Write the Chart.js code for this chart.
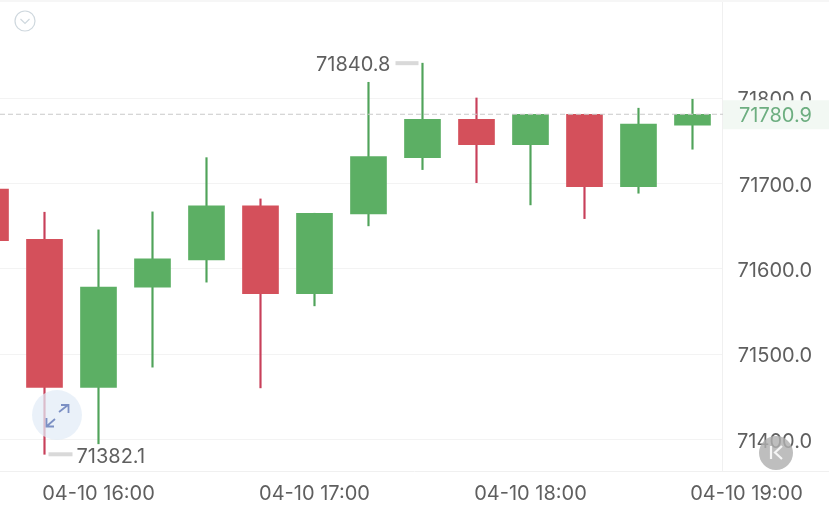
<!DOCTYPE html>
<html>
<head>
<meta charset="utf-8">
<style>
  html, body { margin: 0; padding: 0; background: #fff; overflow: hidden; }
  canvas { display: block; }
</style>
<script src="https://cdn.jsdelivr.net/npm/chart.js@4/dist/chart.umd.min.js"></script>
</head>
<body>
<canvas id="myChart" width="829" height="505"></canvas>
<script>
// candle data, one entry per 15 minutes
var times = ["15:30","15:45","16:00","16:15","16:30","16:45","17:00","17:15","17:30","17:45","18:00","18:15","18:30","18:45"];
var opens  = [71693.0,71634.1,71460.4,71578.1,71610.1,71673.4,71570.6,71664.0,71730.0,71775.0,71745.3,71780.9,71696.0,71768.0];
var closes = [71632.7,71460.4,71578.1,71611.3,71673.4,71570.6,71664.8,71731.2,71775.0,71745.3,71780.9,71696.0,71769.5,71780.9];
var highs  = [71712.0,71666.0,71645.3,71666.4,71730.0,71681.6,71664.8,71818.4,71840.8,71800.0,71780.9,71780.9,71788.0,71798.5];
var lows   = [71610.0,71382.1,71394.4,71484.3,71584.0,71460.0,71556.2,71650.0,71716.0,71700.7,71674.6,71658.5,71688.3,71739.9];

var tickLabels = { 960: "04-10 16:00", 1020: "04-10 17:00", 1080: "04-10 18:00", 1140: "04-10 19:00" };
var priceTicks = [71400, 71500, 71600, 71700, 71800];
var lastPrice = 71780.9;
var highPrice = 71840.8;
var lowPrice = 71382.1;

var FONT = "Inter, 'Liberation Sans', sans-serif";
var TEXT = "#5f5f5f";
var GREEN = "#5caf64", RED = "#d4505b";
var GREEN_WICK = "#50a35a", RED_WICK = "#c8405a";
var DIVIDER_X = 722;

function toMinutes(t) {
  var p = t.split(":");
  return parseInt(p[0]) * 60 + parseInt(p[1]);
}

var bodyData = [], wickData = [], bodyColors = [], wickColors = [];
for (var i = 0; i < times.length; i++) {
  var m = toMinutes(times[i]);
  var up = closes[i] >= opens[i];
  bodyData.push({ x: m, y: [opens[i], closes[i]] });
  wickData.push({ x: m, y: [lows[i], highs[i]] });
  bodyColors.push(up ? GREEN : RED);
  wickColors.push(up ? GREEN_WICK : RED_WICK);
}

// grid lines only reach the divider, the right side belongs to the price labels
var gridPlugin = {
  id: "grid",
  beforeDatasetsDraw: function(chart) {
    var ctx = chart.ctx, y = chart.scales.y, a = chart.chartArea;
    ctx.save();
    ctx.strokeStyle = "#f3f3f3";
    ctx.lineWidth = 1;
    y.ticks.forEach(function(t) {
      var py = Math.round(y.getPixelForValue(t.value)) + 0.5;
      ctx.beginPath(); ctx.moveTo(0, py); ctx.lineTo(DIVIDER_X, py); ctx.stroke();
    });
    ctx.strokeStyle = "#f0f0f0";
    ctx.beginPath(); ctx.moveTo(DIVIDER_X + 0.5, 0); ctx.lineTo(DIVIDER_X + 0.5, a.bottom); ctx.stroke();
    ctx.beginPath(); ctx.moveTo(0, a.bottom + 0.5); ctx.lineTo(829, a.bottom + 0.5); ctx.stroke();
    ctx.strokeStyle = "#f6f6f6";
    ctx.lineWidth = 2;
    ctx.beginPath(); ctx.moveTo(0, 1); ctx.lineTo(829, 1); ctx.stroke();
    ctx.restore();
  }
};

var overlayPlugin = {
  id: "overlay",
  afterDraw: function(chart) {
    var ctx = chart.ctx, y = chart.scales.y, x = chart.scales.x;
    var py = y.getPixelForValue(lastPrice);
    ctx.save();

    // current price
    ctx.strokeStyle = "#c9c9c9";
    ctx.lineWidth = 1;
    ctx.setLineDash([5, 3]);
    ctx.beginPath(); ctx.moveTo(0, py); ctx.lineTo(DIVIDER_X + 18, py); ctx.stroke();
    ctx.setLineDash([]);
    ctx.fillStyle = "#f2f8f3";
    ctx.fillRect(DIVIDER_X + 1, py - 14, 829 - DIVIDER_X, 29);
    ctx.fillStyle = "#6dae80";
    ctx.font = "20px " + FONT;
    ctx.textAlign = "right";
    ctx.textBaseline = "middle";
    ctx.fillText(lastPrice.toFixed(1), 812, py + 2);

    // high label, left of the candle
    var hy = y.getPixelForValue(highPrice);
    var hx = x.getPixelForValue(toMinutes("17:30"));
    ctx.fillStyle = "#d9d9d9";
    ctx.fillRect(hx - 27, hy - 2, 23, 4);
    ctx.fillStyle = TEXT;
    ctx.fillText(highPrice.toFixed(1), hx - 32, hy + 2);

    // low label, right of the candle
    var ly = y.getPixelForValue(lowPrice);
    var lx = x.getPixelForValue(toMinutes("15:45"));
    ctx.fillStyle = "#d9d9d9";
    ctx.fillRect(lx + 4, ly - 2, 24, 4);
    ctx.fillStyle = TEXT;
    ctx.textAlign = "left";
    ctx.fillText(lowPrice.toFixed(1), lx + 32, ly + 3);

    // chevron button
    ctx.strokeStyle = "#cfd8de";
    ctx.lineWidth = 1.2;
    ctx.beginPath(); ctx.arc(25, 21, 10, 0, Math.PI * 2); ctx.stroke();
    ctx.beginPath(); ctx.moveTo(20.5, 19); ctx.lineTo(25, 23.5); ctx.lineTo(29.5, 19); ctx.stroke();

    // expand button
    ctx.fillStyle = "rgba(226,235,247,0.72)";
    ctx.beginPath(); ctx.arc(57, 415, 25, 0, Math.PI * 2); ctx.fill();
    ctx.strokeStyle = "#7c90c4";
    ctx.lineWidth = 1.8;
    ctx.beginPath();
    ctx.moveTo(59, 412); ctx.lineTo(68, 405);
    ctx.moveTo(61, 405); ctx.lineTo(68.5, 405); ctx.lineTo(68.5, 413);
    ctx.moveTo(55, 419); ctx.lineTo(47, 426);
    ctx.moveTo(46.5, 418); ctx.lineTo(46.5, 426.5); ctx.lineTo(54, 426.5);
    ctx.stroke();

    // K button
    ctx.fillStyle = "rgba(176,176,176,0.82)";
    ctx.beginPath(); ctx.arc(776, 453, 17, 0, Math.PI * 2); ctx.fill();
    ctx.strokeStyle = "rgba(255,255,255,0.85)";
    ctx.lineWidth = 2.2;
    ctx.beginPath();
    ctx.moveTo(771, 446); ctx.lineTo(771, 459);
    ctx.moveTo(782, 446); ctx.lineTo(775, 452.5); ctx.lineTo(782, 459);
    ctx.stroke();
    ctx.restore();
  }
};

var ctx = document.getElementById("myChart").getContext("2d");
var myChart = new Chart(ctx, {
  type: "bar",
  data: {
    datasets: [
      { label: "body", data: bodyData, backgroundColor: bodyColors, barThickness: 36, grouped: false, borderWidth: 0 },
      { label: "wick", data: wickData, backgroundColor: wickColors, barThickness: 1.5, grouped: false, borderWidth: 0 }
    ]
  },
  options: {
    responsive: false,
    animation: false,
    layout: { padding: 0 },
    plugins: { legend: { display: false }, tooltip: { enabled: false } },
    scales: {
      x: {
        type: "linear",
        offset: false,
        min: 932.64,
        max: 1162.92,
        grid: { display: false },
        border: { display: false },
        afterFit: function(scale) { scale.height = 34; },
        ticks: {
          stepSize: 60,
          includeBounds: false,
          autoSkip: false,
          maxRotation: 0,
          padding: 3,
          color: TEXT,
          font: { family: FONT, size: 20 },
          callback: function(v) { return tickLabels[v] || ""; }
        }
      },
      y: {
        position: "right",
        min: 71362.5,
        max: 71914.9,
        grid: { display: false, drawTicks: false },
        border: { display: false },
        afterFit: function(scale) { scale.width = 0; },
        afterBuildTicks: function(scale) {
          scale.ticks = priceTicks.map(function(v) { return { value: v }; });
        },
        ticks: {
          autoSkip: false,
          includeBounds: false,
          mirror: true,
          padding: -17,
          labelOffset: 2.5,
          color: TEXT,
          font: { family: FONT, size: 20 },
          callback: function(v) { return v.toFixed(1); }
        }
      }
    }
  },
  plugins: [gridPlugin, overlayPlugin]
});
</script>
</body>
</html>
